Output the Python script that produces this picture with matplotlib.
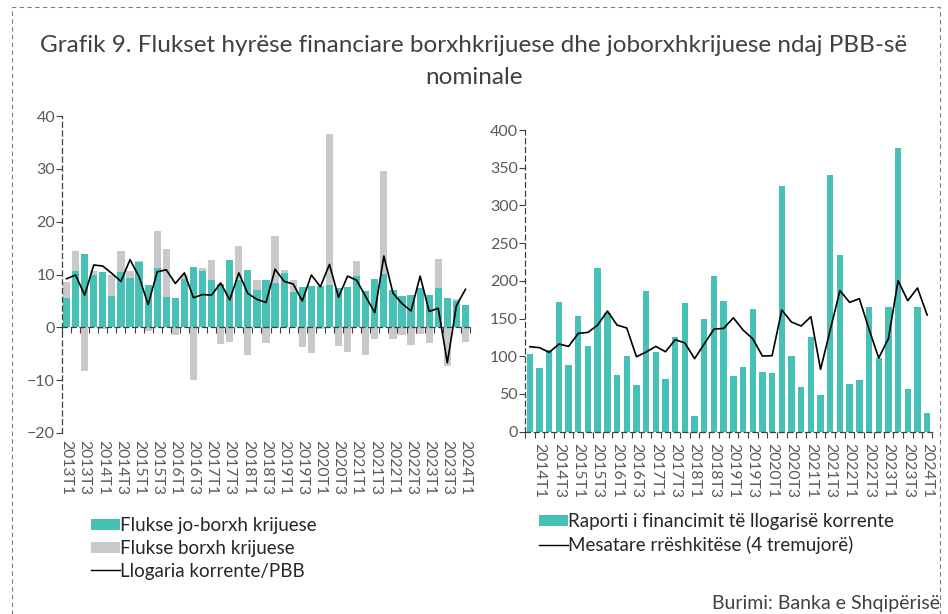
import matplotlib
matplotlib.use("Agg")
import matplotlib.pyplot as plt
from matplotlib.patches import Patch, Rectangle
from matplotlib.lines import Line2D
import numpy as np

plt.rcParams['font.family'] = ['Lato', 'DejaVu Sans']

# ---------------- data ----------------
quarters_left = [f"{y}T{q}" for y in range(2013, 2025) for q in range(1, 5)][:45]
jo_borxh = [5.5, 10.7, 13.8, 9.9, 10.4, 6.0, 10.5, 9.4, 12.3, 8.0,
            11.3, 5.7, 5.5, 9.1, 11.4, 10.6, 8.9, 8.2, 12.8, 8.9,
            10.9, 7.0, 8.9, 8.4, 10.3, 6.7, 7.7, 7.9, 7.8, 8.0,
            7.4, 7.6, 9.7, 6.9, 9.1, 10.1, 7.0, 6.0, 6.2, 7.5,
            6.1, 7.5, 5.5, 5.0, 4.3]
borxh = [3.0, 3.7, -8.2, 0.8, -0.3, 3.9, 3.9, 1.2, 0.3, -0.6,
         6.9, 9.1, -1.5, 0.8, -10.0, 0.7, 3.8, -3.1, -2.8, 6.4,
         -5.2, 1.9, -2.9, 8.9, 0.6, 2.2, -3.8, -4.8, -0.3, 28.6,
         -3.6, -4.7, 2.8, -5.2, -2.3, 19.5, -2.2, -1.4, -3.4, -1.2,
         -2.9, 5.4, -7.4, 0.3, -2.8]
llogaria = [9.2, 9.9, 6.1, 11.8, 11.6, 10.2, 8.7, 12.8, 9.6, 4.3,
            10.5, 10.9, 8.3, 10.3, 5.6, 6.2, 6.1, 8.4, 5.2, 10.3,
            6.4, 5.3, 4.7, 11.0, 8.7, 8.2, 5.0, 9.9, 7.7, 11.9,
            5.7, 9.7, 8.9, 5.8, 2.8, 13.5, 6.5, 4.5, 3.1, 9.7,
            3.0, 3.6, -6.7, 4.1, 7.2]
left_ticklabels = quarters_left[::2]

quarters_right = ["2013T4"] + [f"{y}T{q}" for y in range(2014, 2025) for q in range(1, 5)][:41]
raporti = [102.5, 84.9, 108, 171.5, 88, 153, 114, 217.5, 157, 74.7,
           100, 62, 186.5, 105.6, 70, 126, 170, 21, 150, 206.4,
           173.3, 73.8, 85.3, 162.2, 79, 78.2, 325.3, 99.9, 58.8, 125.5,
           48.2, 339.9, 234.7, 63.6, 68, 164.9, 97.7, 164.9, 375.7, 56.1,
           164.9, 24.3]
mesatare = [112.7, 111.4, 105.2, 116.2, 113.1, 130.4, 131.7, 141.4, 160, 141.4,
            137.5, 99.4, 105.6, 113.1, 106, 122, 117.6, 96.8, 116.5, 136,
            137, 151, 134.8, 123.3, 100.3, 100.8, 161.3, 145.4, 140.1, 152.5,
            82.7, 135, 187, 171.5, 176.4, 136, 97.7, 123.3, 200.2, 173.7,
            190.5, 154.7]
right_ticklabels = quarters_right[1::2]

# ---------------- style ----------------
GREEN = '#47C0B5'
GREY = '#C9C9CB'
TXT = '#404040'
TICK = '#595959'
FW = 'normal'

fig = plt.figure(figsize=(9.48, 6.14), dpi=100)

# dashed frame
fig.patches.append(Rectangle((12 / 948, -0.05), 928 / 948, 1 - 7 / 614 + 0.05,
                             transform=fig.transFigure, fill=False,
                             edgecolor='#7f7f7f', linestyle=(0, (4, 3)), linewidth=0.8))

fig.text(0.5, 1 - 45 / 614,
         "Grafik 9. Flukset hyrëse financiare borxhkrijuese dhe joborxhkrijuese ndaj PBB-së",
         ha='center', va='center', fontsize=17.5, color=TXT, fontweight=FW)
fig.text(0.5, 1 - 78 / 614, "nominale", ha='center', va='center', fontsize=17.5,
         color=TXT, fontweight=FW)


def style_axes(ax):
    for s in ['top', 'right']:
        ax.spines[s].set_visible(False)
    ax.spines['left'].set_linestyle((0, (4, 3)))
    ax.spines['left'].set_color('#404040')
    ax.spines['left'].set_linewidth(0.9)
    ax.spines['bottom'].set_linestyle((0, (4, 3)))
    ax.spines['bottom'].set_color('#404040')
    ax.spines['bottom'].set_linewidth(0.9)
    ax.tick_params(axis='y', length=4, width=0.8, color='#404040', labelsize=11.5,
                   labelcolor=TICK, pad=1)


# ---------------- left chart ----------------
axL = fig.add_axes([62 / 948, 1 - 433 / 614, 408 / 948, (433 - 116) / 614])
xL = np.arange(len(jo_borxh))
jb = np.array(jo_borxh)
bx = np.array(borxh)
axL.bar(xL, jb, width=0.8, color=GREEN, zorder=2)
axL.bar(xL, bx, bottom=np.where(bx > 0, jb, 0), width=0.8, color=GREY, zorder=1)
axL.plot(xL, llogaria, color='black', linewidth=1.2, zorder=3)
axL.set_xlim(-0.5, len(xL) - 0.5)
axL.set_ylim(-20, 40)
axL.set_yticks(np.arange(-20, 41, 10))
style_axes(axL)
axL.spines['bottom'].set_position(('data', 0))
axL.set_xticks(np.arange(-0.5, len(xL), 1))
axL.tick_params(axis='x', length=4, width=0.8, color='#404040', labelbottom=False)
secL = axL.secondary_xaxis('bottom')
secL.spines['bottom'].set_visible(False)
secL.set_xticks(xL[::2])
secL.set_xticklabels(left_ticklabels, rotation=270, fontsize=11.3, color=TICK,
                     fontweight=FW)
secL.tick_params(axis='x', length=0, pad=5)

# ---------------- right chart ----------------
axR = fig.add_axes([525 / 948, 1 - 431.7 / 614, 407 / 948, (431.7 - 130) / 614])
xR = np.arange(len(raporti))
axR.bar(xR, raporti, width=0.66, color=GREEN, zorder=2)
axR.plot(xR, mesatare, color='black', linewidth=1.2, zorder=3)
axR.set_xlim(-0.5, len(xR) - 0.5)
axR.set_ylim(0, 400)
axR.set_yticks(np.arange(0, 401, 50))
style_axes(axR)
axR.set_xticks(np.arange(-0.5, len(xR), 1))
axR.tick_params(axis='x', length=4, width=0.8, color='#404040', labelbottom=False)
secR = axR.secondary_xaxis('bottom')
secR.spines['bottom'].set_visible(False)
secR.set_xticks(xR[1::2])
secR.set_xticklabels(right_ticklabels, rotation=270, fontsize=11.3, color=TICK,
                     fontweight=FW)
secR.tick_params(axis='x', length=0, pad=8)

# ---------------- legends ----------------
legL = [Patch(facecolor=GREEN, label='Flukse jo-borxh krijuese'),
        Patch(facecolor=GREY, label='Flukse borxh krijuese'),
        Line2D([], [], color='black', linewidth=1.0, label='Llogaria korrente/PBB')]
lg1 = fig.legend(handles=legL, loc='upper left', bbox_to_anchor=(82 / 948, 1 - 508 / 614),
                 frameon=False, handlelength=1.5, handleheight=0.55, handletextpad=0.05,
                 labelspacing=0.3, borderpad=0, prop={'size': 13.5, 'weight': FW})
for t in lg1.get_texts():
    t.set_color('#262626')

legR = [Patch(facecolor=GREEN, label='Raporti i financimit të llogarisë korrente'),
        Line2D([], [], color='black', linewidth=1.0, label='Mesatare rrëshkitëse (4 tremujorë)')]
lg2 = fig.legend(handles=legR, loc='upper left', bbox_to_anchor=(530 / 948, 1 - 504 / 614),
                 frameon=False, handlelength=1.5, handleheight=0.55, handletextpad=0.05,
                 labelspacing=0.3, borderpad=0, prop={'size': 13.5, 'weight': FW})
for t in lg2.get_texts():
    t.set_color('#262626')

fig.text(940 / 948, 1 - 604 / 614, "Burimi: Banka e Shqipërisë", ha='right', va='center',
         fontsize=14, color=TXT, fontweight=FW)

fig.savefig('out.png', dpi=100)
